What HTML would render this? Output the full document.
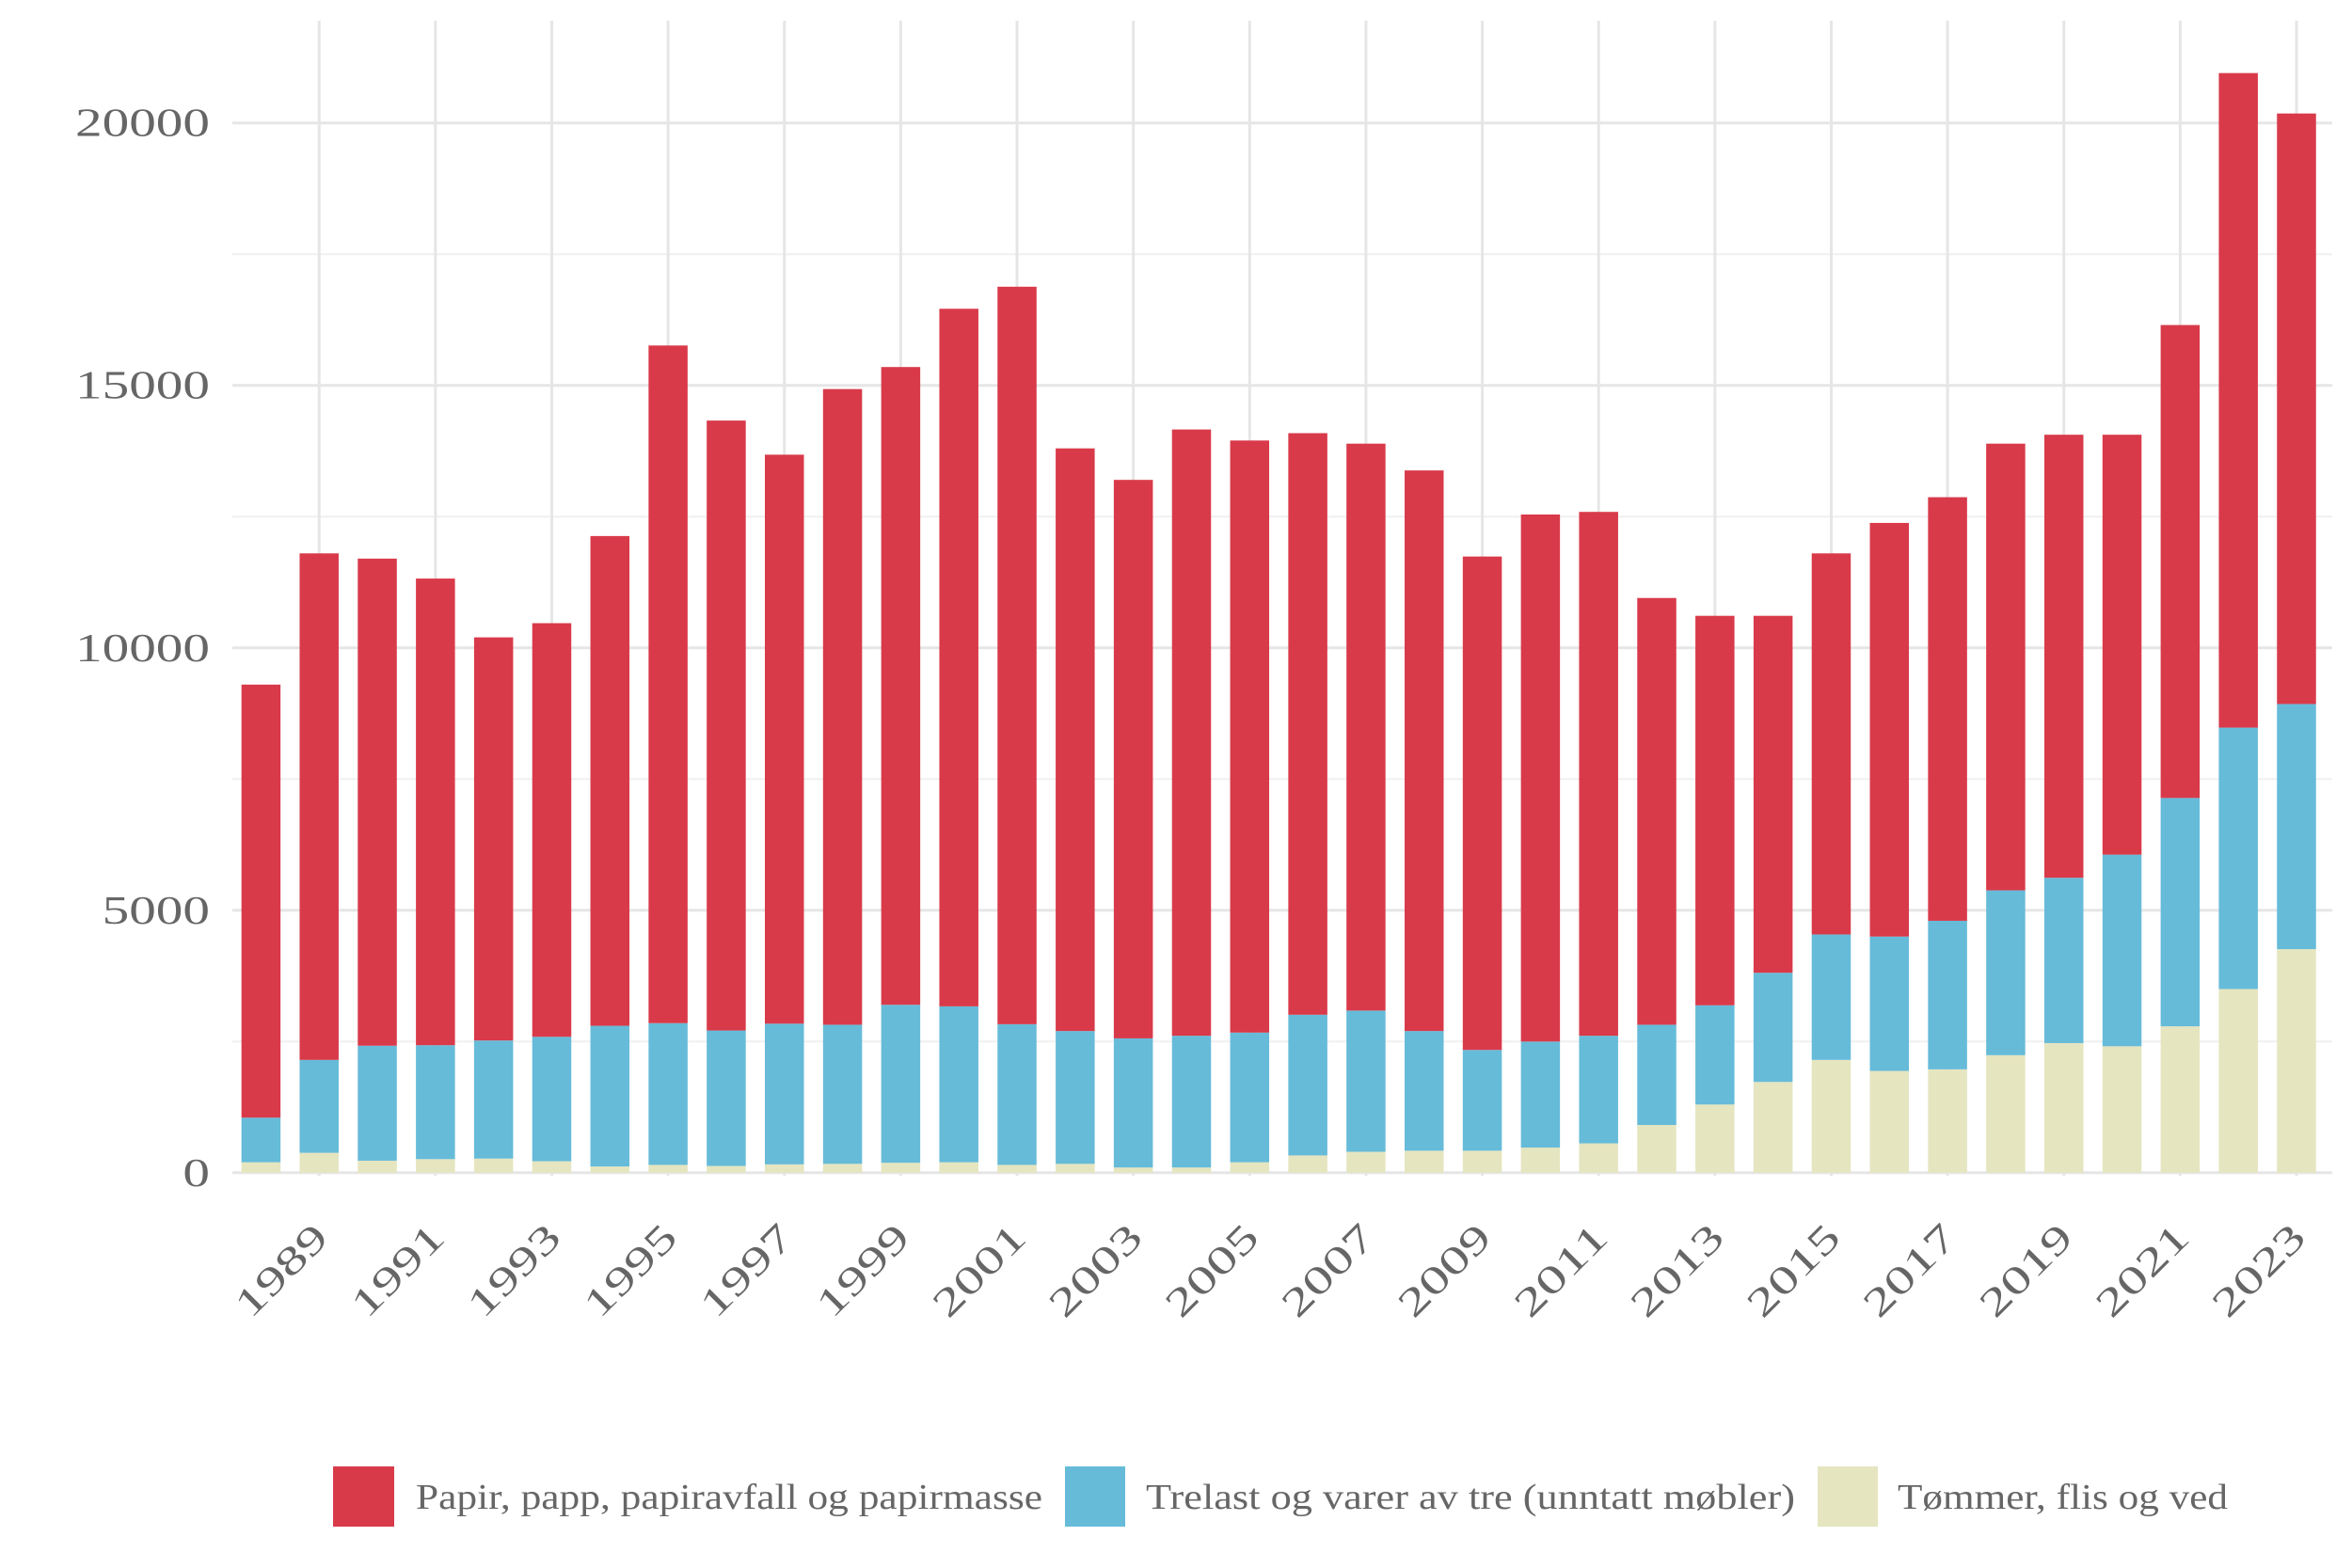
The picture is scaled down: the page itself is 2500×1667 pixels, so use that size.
<!DOCTYPE html>
<html><head><meta charset="utf-8"><style>
body{margin:0;background:#fff}
svg{display:block;font-family:"Liberation Serif",serif}
</style></head><body>
<svg id="chart" width="2500" height="1667" viewBox="0 0 2500 1667" xmlns="http://www.w3.org/2000/svg">
<g id="grid"></g>
<g id="bars"></g>
<g id="axes"></g>
<g id="legend">
<rect x="354" y="1559" width="65" height="64" fill="#d93a4a"/>
<text x="442" y="1604" font-size="38" fill="#666" textLength="666" lengthAdjust="spacingAndGlyphs">Papir, papp, papiravfall og papirmasse</text>
<rect x="1132" y="1559" width="64" height="64" fill="#66bbd9"/>
<text x="1218" y="1604" font-size="38" fill="#666" textLength="690" lengthAdjust="spacingAndGlyphs">Trelast og varer av tre (unntatt møbler)</text>
<rect x="1932" y="1559" width="64" height="64" fill="#e5e5c0"/>
<text x="2017" y="1604" font-size="38" fill="#666" textLength="351" lengthAdjust="spacingAndGlyphs">Tømmer, flis og ved</text>
</g>
</svg>
<script>
const years=[1988,1989,1990,1991,1992,1993,1994,1995,1996,1997,1998,1999,2000,2001,2002,2003,2004,2005,2006,2007,2008,2009,2010,2011,2012,2013,2014,2015,2016,2017,2018,2019,2020,2021,2022,2023];
const tommer=[200,380,230,260,270,220,120,150,130,160,170,190,200,150,170,100,100,200,330,400,420,420,480,560,910,1300,1730,2150,1940,1970,2240,2470,2410,2790,3500,4260];
const trelast=[850,1770,2190,2170,2250,2370,2680,2700,2580,2680,2650,3010,2970,2680,2530,2460,2510,2470,2680,2690,2280,1920,2020,2050,1910,1890,2080,2390,2560,2830,3140,3150,3650,4350,4980,4670];
const papir=[8250,9650,9280,8890,7680,7880,9330,12910,11620,10840,12110,12150,13290,14050,11100,10640,11550,11280,11080,10800,10680,9400,10040,9980,8130,7420,6800,7260,7880,8070,8510,8440,8000,9010,12470,11250];
const yTicks=[0,5000,10000,15000,20000];
const NS='http://www.w3.org/2000/svg';
const x0=277.4,x1=2441,y0=1246.8,y20=130.7,bw=41.5;
const X=y=>x0+(y-1988)*(x1-x0)/35;
const Y=v=>y0+(y20-y0)*v/20000;
function mk(t,a,p){const e=document.createElementNS(NS,t);for(const k in a)e.setAttribute(k,a[k]);p.appendChild(e);return e;}
const grid=document.getElementById('grid'),bars=document.getElementById('bars'),axes=document.getElementById('axes');
for(let v=0;v<=21250;v+=2500){
 const l=mk('line',{x1:247,x2:2479,y1:Y(v),y2:Y(v),stroke:v%5000?'#f0f0f0':'#e6e6e6','stroke-width':v%5000?2:3},grid);
 
 
}
years.forEach(y=>{if(y%2===1){
 const l=mk('line',{x1:X(y),x2:X(y),y1:22,y2:1250,stroke:'#e6e6e6','stroke-width':3},grid);
 
 
}});
yTicks.forEach(v=>{
 const s=String(v);
 const t=mk('text',{x:223,y:Y(v)+14,'text-anchor':'end','font-size':42,fill:'#666',textLength:s.length*28.6,lengthAdjust:'spacingAndGlyphs'},axes);
 t.textContent=s;
 
 
});
years.forEach((y,i)=>{
 const segs=[[tommer[i],'#e5e5c0','bar-tommer'],[trelast[i],'#66bbd9','bar-trelast'],[papir[i],'#d93a4a','bar-papir']];
 let base=0;
 segs.forEach(s=>{
  const r=mk('rect',{x:X(y)-bw/2,y:Y(base+s[0]),width:bw,height:Y(base)-Y(base+s[0]),fill:s[1]},bars);
  
  
  base+=s[0];
 });
 if(y%2===1){
  const ax=X(y)+12,ay=1318;
  const t=mk('text',{x:ax,y:ay,'text-anchor':'end','font-size':42,fill:'#666',textLength:120,lengthAdjust:'spacingAndGlyphs',transform:`rotate(-45 ${ax} ${ay})`},axes);
  t.textContent=y;
  
  
 }
});
</script>
</body></html>
